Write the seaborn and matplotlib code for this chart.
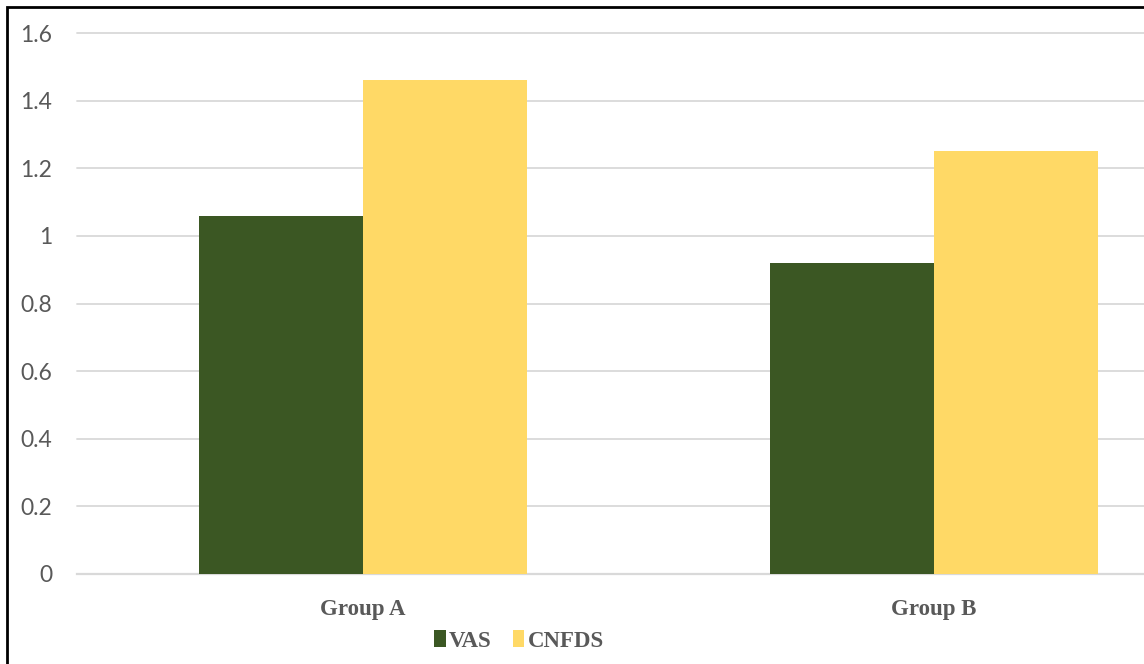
import matplotlib
matplotlib.use("Agg")
import matplotlib.pyplot as plt
import seaborn as sns
import pandas as pd
from matplotlib.patches import Rectangle, Patch

groups = ["Group A", "Group B"]
series = ["VAS", "CNFDS"]
vas_values = [1.06, 0.92]
cnfds_values = [1.46, 1.25]
y_ticks = [0, 0.2, 0.4, 0.6, 0.8, 1, 1.2, 1.4, 1.6]
y_tick_labels = ["0", "0.2", "0.4", "0.6", "0.8", "1", "1.2", "1.4", "1.6"]

colors = {"VAS": "#3B5723", "CNFDS": "#FFD966"}

df = pd.DataFrame({
    "group": groups * 2,
    "series": ["VAS"] * len(groups) + ["CNFDS"] * len(groups),
    "value": vas_values + cnfds_values,
})

sns.set_theme(style="white")
plt.rcParams['font.family'] = ['Lato', 'DejaVu Sans']

W, H = 1144, 664
fig = plt.figure(figsize=(W / 100, H / 100), dpi=100)
ax_left, ax_right = 77 / W, 1.0
ax_bottom, ax_top = 1 - 574 / H, 1 - 33 / H
ax = fig.add_axes([ax_left, ax_bottom, ax_right - ax_left, ax_top - ax_bottom])

sns.barplot(data=df, x="group", y="value", hue="series", hue_order=series,
            palette=colors, width=0.574, gap=0, dodge=True, ax=ax,
            legend=False, saturation=1, linewidth=0, zorder=3)

ax.set_xlim(-0.5, (W - 363) / 571)
ax.set_ylim(0, 1.6)
ax.set_yticks(y_ticks)
ax.set_yticklabels(y_tick_labels, color="#595959", fontsize=16.5)
ax.tick_params(axis="y", length=0, pad=18)
ax.tick_params(axis="x", length=0, pad=18)
ax.set_xticks(range(len(groups)))
ax.set_xticklabels(groups, color="#595959", fontsize=16.5, fontweight="bold",
                   family=["Liberation Serif", "DejaVu Serif"])
ax.set_xlabel("")
ax.set_ylabel("")
ax.yaxis.grid(True, color="#D9D9D9", linewidth=1.3, zorder=0)
ax.set_axisbelow(True)
for s in ["top", "right", "left"]:
    ax.spines[s].set_visible(False)
ax.spines["bottom"].set_color("#D9D9D9")
ax.spines["bottom"].set_linewidth(1.6)
for gl in ax.get_ygridlines():
    gl.set_clip_on(False)

handles = [Patch(facecolor=colors[s], edgecolor="none", label=s) for s in series]
leg = fig.legend(handles=handles, loc="center", bbox_to_anchor=(519 / W, 1 - 641 / H),
                 ncol=2, frameon=False, handlelength=0.5, handleheight=0.7,
                 handletextpad=0.15, columnspacing=0.9,
                 prop={"family": ["Liberation Serif", "DejaVu Serif"], "weight": "bold", "size": 16.5})
for t in leg.get_texts():
    t.set_color("#595959")

fig.patches.append(Rectangle((7 / W, -0.1), 1.2, 1 - 7 / H + 0.1, transform=fig.transFigure,
                             fill=False, edgecolor="black", linewidth=2, zorder=10))

fig.savefig("out.png", dpi=100)
